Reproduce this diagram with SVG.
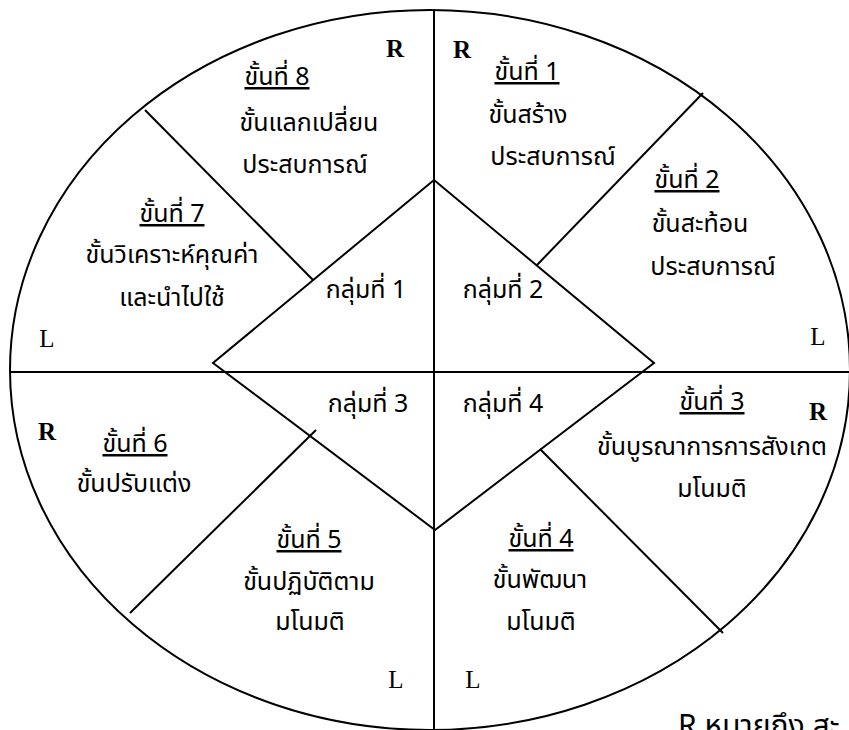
<svg xmlns="http://www.w3.org/2000/svg" width="849" height="730" viewBox="0 0 849 730">
<style>
.ln{stroke:#000;stroke-width:2;fill:none}
.t{font-family:"Noto Sans Thai","Liberation Sans",sans-serif;font-size:25px;fill:#000;text-anchor:middle}
.u{text-decoration:underline}
.m{font-family:"Liberation Serif",serif;font-size:25px;fill:#000;text-anchor:middle}
.b{font-weight:bold}
</style>
<rect width="849" height="730" fill="#fff"/>
<g id="connectors">
<ellipse class="ln" cx="430" cy="370" rx="420" ry="360"/>
<line class="ln" x1="434" y1="10" x2="434" y2="730"/>
<line class="ln" x1="10" y1="372" x2="849" y2="372"/>
<polygon class="ln" points="434,180 654,363 435,530 213,363"/>
<line class="ln" x1="145" y1="110" x2="313" y2="280"/>
<line class="ln" x1="703" y1="93" x2="537" y2="265"/>
<line class="ln" x1="316" y1="430" x2="130" y2="613"/>
<line class="ln" x1="540" y1="449" x2="723" y2="633"/>
</g>
<g id="step8">
<text class="t u" x="277" y="85">ขั้นที่ 8</text>
<text class="t" x="309" y="131">ขั้นแลกเปลี่ยน</text>
<text class="t" x="305" y="173">ประสบการณ์</text>
<text class="m b" x="395" y="57">R</text>
</g>
<g id="step7">
<text class="t u" x="172" y="222">ขั้นที่ 7</text>
<text class="t" x="172" y="263">ขั้นวิเคราะห์คุณค่า</text>
<text class="t" x="172" y="306">และนำไปใช้</text>
<text class="m" x="47" y="347">L</text>
</g>
<g id="step1">
<text class="t u" x="527" y="80">ขั้นที่ 1</text>
<text class="t" x="528" y="123">ขั้นสร้าง</text>
<text class="t" x="553" y="165">ประสบการณ์</text>
<text class="m b" x="462" y="58">R</text>
</g>
<g id="step2">
<text class="t u" x="687" y="188">ขั้นที่ 2</text>
<text class="t" x="700" y="232">ขั้นสะท้อน</text>
<text class="t" x="713" y="275">ประสบการณ์</text>
<text class="m" x="818" y="345">L</text>
</g>
<g id="group1"><text class="t" x="366" y="298">กลุ่มที่ 1</text></g>
<g id="group2"><text class="t" x="503" y="298">กลุ่มที่ 2</text></g>
<g id="group3"><text class="t" x="368" y="412">กลุ่มที่ 3</text></g>
<g id="group4"><text class="t" x="503" y="412">กลุ่มที่ 4</text></g>
<g id="step6">
<text class="m b" x="47" y="440">R</text>
<text class="t u" x="135" y="452">ขั้นที่ 6</text>
<text class="t" x="134" y="492">ขั้นปรับแต่ง</text>
</g>
<g id="step5">
<text class="t u" x="309" y="548">ขั้นที่ 5</text>
<text class="t" x="309" y="590">ขั้นปฏิบัติตาม</text>
<text class="t" x="310" y="630">มโนมติ</text>
<text class="m" x="396" y="688">L</text>
</g>
<g id="step3">
<text class="t u" x="712" y="410">ขั้นที่ 3</text>
<text class="m b" x="818" y="420">R</text>
<text class="t" x="712" y="455">ขั้นบูรณาการการสังเกต</text>
<text class="t" x="712" y="497">มโนมติ</text>
</g>
<g id="step4">
<text class="t u" x="541" y="547">ขั้นที่ 4</text>
<text class="t" x="540" y="588">ขั้นพัฒนา</text>
<text class="t" x="541" y="630">มโนมติ</text>
<text class="m" x="473" y="688">L</text>
</g>
<g id="legend">
<text class="t" x="678" y="736" style="text-anchor:start;font-size:30px">R  หมายถึง สะ</text>
</g>
</svg>
